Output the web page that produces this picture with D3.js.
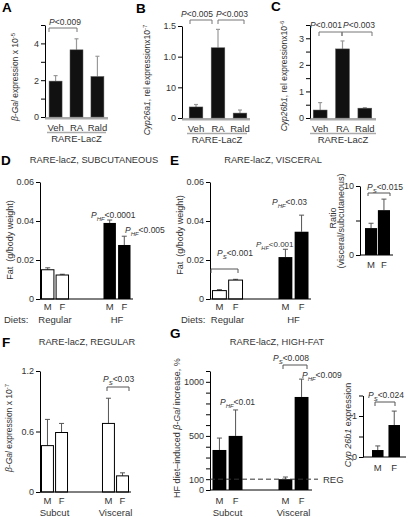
<!DOCTYPE html>
<html><head><meta charset="utf-8">
<script src="https://cdn.jsdelivr.net/npm/d3@7"></script>
<style>body{margin:0;background:#fff}svg{display:block}text{white-space:pre}</style>
</head><body><svg id="chart" width="408" height="517"></svg>
<script>
// ---------------- DATA ----------------
const treatments = ["Veh", "RA", "Rald"];
const betaGalA = [1.95, 3.65, 2.2];
const betaGalAErr = [0.3, 0.6, 1.1];
const cyp26a1B = [0.18, 1.145, 0.08];
const cyp26a1BErr = [0.04, 0.3, 0.05];
const cyp26b1C = [0.3, 2.6, 0.37];
const cyp26b1CErr = [0.28, 0.3, 0.02];

const sexes = ["M", "F"];
const diets = ["Regular", "HF"];
const subcutFatD = [[0.015, 0.0123], [0.039, 0.0277]];
const subcutFatDErr = [[0.001, 0.0004], [0.0015, 0.0045]];
const visceralFatE = [[0.0043, 0.0097], [0.0215, 0.0345]];
const visceralFatEErr = [[0.0005, 0.0004], [0.004, 0.0085]];
const ratioE = [3.9, 6.5];
const ratioEErr = [0.7, 1.6];

const depots = ["Subcut", "Visceral"];
const betaGalF = [[0.46, 0.59], [0.68, 0.16]];
const betaGalFErr = [[0.26, 0.09], [0.25, 0.03]];
const hfIncreaseG = [[370, 500], [100, 860]];
const hfIncreaseGErr = [[110, 240], [20, 165]];
const cyp26b1G = [0.17, 0.78];
const cyp26b1GErr = [0.1, 0.34];

// ---------------- HELPERS ----------------
const svg = d3.select("#chart");
const FONT = "'Liberation Sans', Arial, Helvetica, sans-serif";

function rich(x, y, parts, o = {}) {
  const size = o.size || 9;
  const t = svg.append("text").attr("x", x).attr("y", y)
    .attr("font-size", size).attr("font-family", FONT)
    .attr("text-anchor", o.anchor || "start")
    .attr("fill", o.fill || "#333");
  if (o.weight) t.attr("font-weight", o.weight);
  if (o.rotate) t.attr("transform", `rotate(-90,${x},${y})`);
  let shift = 0;
  parts.forEach(p => {
    if (typeof p === "string") p = { t: p };
    const s = t.append("tspan").text(p.t);
    if (p.i) s.attr("font-style", "italic");
    const target = p.sub ? 2.5 : p.sup ? -3.5 : 0;
    if (target !== shift) { s.attr("dy", target - shift); shift = target; }
    if (p.sub || p.sup) s.attr("font-size", size * 0.7);
  });
  return t;
}

function leftAxis(y, x, ticks, labels, fmt) {
  const g = svg.append("g").attr("transform", `translate(${x},0)`)
    .call(d3.axisLeft(y).tickValues(ticks).tickSize(4).tickSizeOuter(0).tickPadding(2)
      .tickFormat(d => labels.includes(d) ? fmt(d) : ""));
  g.attr("font-family", FONT).attr("font-size", 9);
  g.selectAll("text").attr("fill", "#333");
  g.selectAll("line,path").attr("stroke", "#000");
  return g;
}

function errorBar(cx, y0, y1, cap, color, w) {
  svg.append("line").attr("x1", cx).attr("x2", cx).attr("y1", y0).attr("y2", y1)
    .attr("stroke", color).attr("stroke-width", w);
  svg.append("line").attr("x1", cx - cap / 2).attr("x2", cx + cap / 2).attr("y1", y1).attr("y2", y1)
    .attr("stroke", color).attr("stroke-width", w);
}

function bracket(x1, x2, y, drop, color = "#555") {
  svg.append("path").attr("d", `M${x1},${y + drop}V${y}H${x2}V${y + drop}`)
    .attr("fill", "none").attr("stroke", color).attr("stroke-width", 1);
}

function label(x, y, s, size = 9, anchor = "middle") {
  return rich(x, y, [s], { size, anchor });
}

// ---------------- PANELS A-C ----------------
function panelABC(cfg) {
  const y = d3.scaleLinear().domain(cfg.domain).range(cfg.yRange);
  const x = d3.scaleBand().domain(treatments).range(cfg.xRange).paddingInner(0.38).paddingOuter(0.1);
  const y0 = y(0);
  svg.append("line").attr("x1", cfg.axisX).attr("x2", cfg.xEnd).attr("y1", y0 + 1.2).attr("y2", y0 + 1.2)
    .attr("stroke", "#aaa").attr("stroke-width", 2.5);
  leftAxis(y, cfg.axisX, cfg.ticks, cfg.labels, cfg.fmt);
  cfg.values.forEach((v, i) => {
    const cx = x(treatments[i]) + x.bandwidth() / 2;
    errorBar(cx, y(v), y(v + cfg.errs[i]), 4, "#999", 1.2);
  });
  svg.append("g").selectAll("rect").data(cfg.values).join("rect")
    .attr("x", (d, i) => x(treatments[i])).attr("y", d => y(d))
    .attr("width", x.bandwidth()).attr("height", d => y0 - y(d))
    .attr("fill", "#111").attr("stroke", "#555").attr("stroke-width", 0.5);
  treatments.forEach(t => label(x(t) + x.bandwidth() / 2, y0 + 13.5, t, 9.5));
  svg.append("line").attr("x1", cfg.lz[0]).attr("x2", cfg.lz[1]).attr("y1", y0 + 15.5).attr("y2", y0 + 15.5)
    .attr("stroke", "#aaa").attr("stroke-width", 1.5);
  label((cfg.lz[0] + cfg.lz[1]) / 2, y0 + 25, "RARE-LacZ", 9.5);
  return { x, y };
}

panelABC({
  values: betaGalA, errs: betaGalAErr, domain: [0, 5], yRange: [117, 25],
  xRange: [47, 106], axisX: 45, xEnd: 108, ticks: [0, 1, 2, 3, 4, 5], labels: [0, 2, 4],
  fmt: d => String(d), lz: [47, 106]
});
panelABC({
  values: cyp26a1B, errs: cyp26a1BErr, domain: [0, 1.5], yRange: [118, 26],
  xRange: [187, 249], axisX: 182, xEnd: 250, ticks: [0, 0.5, 1, 1.5], labels: [0, 0.5, 1, 1.5],
  fmt: d => ({ 0: "0", 0.5: "10", 1: "1.0", 1.5: "1.5" })[d], lz: [187, 247]
});
panelABC({
  values: cyp26b1C, errs: cyp26b1CErr, domain: [0, 3.5], yRange: [118, 25],
  xRange: [311, 374], axisX: 310, xEnd: 376, ticks: d3.range(0, 3.51, 0.5), labels: [0, 1, 2, 3],
  fmt: d => String(d), lz: [310, 376]
});

// A-C annotations
bracket(49, 77, 28, 4, "#777");
rich(65, 25, [{ t: "P", i: true }, "<0.009"], { anchor: "middle", size: 8.5 });
bracket(190, 212, 20, 4, "#777");
bracket(218, 244, 20, 4, "#777");
rich(197, 17, [{ t: "P", i: true }, "<0.005"], { anchor: "middle", size: 8.5 });
rich(232, 17, [{ t: "P", i: true }, "<0.003"], { anchor: "middle", size: 8.5 });
bracket(319, 342, 32, 4, "#777");
bracket(342, 372, 32, 4, "#777");
rich(326, 28, [{ t: "P", i: true }, "<0.001"], { anchor: "middle", size: 8.5 });
rich(359, 28, [{ t: "P", i: true }, "<0.003"], { anchor: "middle", size: 8.5 });

rich(18, 77, [{ t: "β-Gal", i: true }, " expression x 10", { t: "-5", sup: true }], { rotate: true, anchor: "middle", size: 8.5 });
rich(150, 80, [{ t: "Cyp26a1", i: true }, ", rel expressionx10", { t: "-7", sup: true }], { rotate: true, anchor: "middle", size: 8.5 });
rich(287, 76, [{ t: "Cyp26b1", i: true }, ", rel expressionx10", { t: "-6", sup: true }], { rotate: true, anchor: "middle", size: 8.5 });

// ---------------- GROUPED PANELS ----------------
function panelGrouped(cfg) {
  const y = d3.scaleLinear().domain(cfg.domain).range(cfg.yRange);
  const xo = d3.scaleBand().domain(cfg.groups).range(cfg.xRange).paddingInner(cfg.pi);
  const xi = d3.scaleBand().domain(sexes).range([0, xo.bandwidth()]).paddingInner(0.08);
  const y0 = y(0);
  leftAxis(y, cfg.axisX, cfg.ticks, cfg.labels, cfg.fmt);
  cfg.groups.forEach((gn, gi) => sexes.forEach((s, si) => {
    const v = cfg.values[gi][si], e = cfg.errs[gi][si];
    const bx = xo(gn) + xi(s), bw = xi.bandwidth();
    errorBar(bx + bw / 2, y(v), y(v + e), 5, "#555", 1);
    const fill = cfg.fills[gi];
    svg.append("rect").attr("x", bx + 0.5).attr("y", y(v)).attr("width", bw - 1).attr("height", y0 - y(v))
      .attr("fill", fill).attr("stroke", fill === "#fff" ? "#000" : "none").attr("stroke-width", 1);
    label(bx + bw / 2, cfg.sexY, s, 9.5);
  }));
  svg.append("line").attr("x1", cfg.axisX).attr("x2", cfg.xEnd).attr("y1", y0).attr("y2", y0)
    .attr("stroke", "#000").attr("stroke-width", 1);
  cfg.groups.forEach(gn => label(xo(gn) + xo.bandwidth() / 2, cfg.groupY, gn, 9.5));
  return { y, xo, xi };
}

const fatFmt = d => d === 0 ? "0" : d.toFixed(2);
const dP = panelGrouped({
  groups: diets, values: subcutFatD, errs: subcutFatDErr, fills: ["#fff", "#000"],
  domain: [0, 0.06], yRange: [299, 182], axisX: 40, xRange: [41, 131], pi: 0.548, xEnd: 133,
  ticks: [0, 0.02, 0.04, 0.06], labels: [0, 0.02, 0.04, 0.06], fmt: fatFmt, sexY: 310, groupY: 323
});
label(4, 323, "Diets:", 9.5, "start");

const eP = panelGrouped({
  groups: diets, values: visceralFatE, errs: visceralFatEErr, fills: ["#fff", "#000"],
  domain: [0, 0.06], yRange: [299, 182], axisX: 210, xRange: [212, 309], pi: 0.53, xEnd: 311,
  ticks: [0, 0.02, 0.04, 0.06], labels: [0, 0.02, 0.04, 0.06], fmt: fatFmt, sexY: 310, groupY: 323
});
label(181, 323, "Diets:", 9.5, "start");

const fP = panelGrouped({
  groups: depots, values: betaGalF, errs: betaGalFErr, fills: ["#fff", "#fff"],
  domain: [0, 1.2], yRange: [492, 371], axisX: 40, xRange: [41, 129], pi: 0.557, xEnd: 131,
  ticks: [0, 0.6, 1.2], labels: [0, 0.6, 1.2], fmt: d => d === 0 ? "0" : d.toFixed(1), sexY: 504, groupY: 516
});

const gP = panelGrouped({
  groups: depots, values: hfIncreaseG, errs: hfIncreaseGErr, fills: ["#000", "#000"],
  domain: [0, 1100], yRange: [490, 371], axisX: 210, xRange: [212, 309], pi: 0.53, xEnd: 312,
  ticks: d3.range(0, 1101, 100), labels: [0, 100, 500, 1000], fmt: d => String(d), sexY: 504, groupY: 516
});
svg.append("line").attr("x1", 210).attr("x2", 318).attr("y1", gP.y(100)).attr("y2", gP.y(100))
  .attr("stroke", "#333").attr("stroke-width", 1).attr("stroke-dasharray", "5,3");
label(323, gP.y(100) + 3.5, "REG", 9.5, "start");

// ---------------- INSETS ----------------
function inset(cfg) {
  const y = d3.scaleLinear().domain(cfg.domain).range(cfg.yRange);
  const x = d3.scaleBand().domain(sexes).range(cfg.xRange).paddingInner(cfg.pi);
  const y0 = y(0);
  leftAxis(y, cfg.axisX, cfg.ticks, cfg.labels, d => String(d));
  cfg.values.forEach((v, i) => {
    const bx = x(sexes[i]), bw = x.bandwidth();
    errorBar(bx + bw / 2, y(v), y(v + cfg.errs[i]), 5, "#555", 1);
    svg.append("rect").attr("x", bx).attr("y", y(v)).attr("width", bw).attr("height", y0 - y(v)).attr("fill", "#000");
    label(bx + bw / 2, cfg.sexY, sexes[i], 9.5);
  });
  svg.append("line").attr("x1", cfg.axisX).attr("x2", cfg.xEnd).attr("y1", y0).attr("y2", y0)
    .attr("stroke", "#000").attr("stroke-width", 1);
  return { x, y };
}
inset({
  values: ratioE, errs: ratioEErr, domain: [0, 10], yRange: [255, 186], xRange: [365, 390], pi: 0.06,
  axisX: 360, xEnd: 393, ticks: [0, 5, 10], labels: [0, 10], sexY: 268
});
inset({
  values: cyp26b1G, errs: cyp26b1GErr, domain: [0, 1.5], yRange: [457, 395.5], xRange: [372, 400], pi: 0.3,
  axisX: 363, xEnd: 406, ticks: [0, 0.5, 1, 1.5], labels: [0, 1], sexY: 471
});

// ---------------- ANNOTATIONS D-G ----------------
const P = (s) => [{ t: "P", i: true }, { t: s, i: true, sub: true }];
rich(91, 218, [...P("HF"), "<0.0001"], { size: 8.5 });
rich(125, 233, [...P("HF"), "<0.005"], { size: 8.5 });

rich(217, 256, [...P("S"), "<0.001"], { size: 8.5 });
bracket(211, 238, 269, 4);
rich(256, 247, [...P("HF"), "<0.001"], { size: 8 });
rich(272, 205, [...P("HF"), "<0.03"], { size: 8.5 });

rich(367, 190, [...P("S"), "<0.015"], { size: 8.5 });
bracket(368, 390, 193, 3);

rich(103, 382, [...P("S"), "<0.03"], { size: 8.5 });
bracket(107, 129, 387, 4);

rich(220, 405, [...P("HF"), "<0.01"], { size: 8.5 });
rich(273, 361, [...P("S"), "<0.008"], { size: 8.5 });
bracket(283, 307, 365, 4);
rich(302, 378, [...P("HF"), "<0.009"], { size: 8.5 });

rich(368, 398, [...P("S"), "<0.024"], { size: 8.5 });
bracket(375, 395, 402, 4);

// ---------------- TITLES / AXIS LABELS ----------------
label(94, 163, "RARE-lacZ, SUBCUTANEOUS", 9.3);
label(273, 163, "RARE-lacZ, VISCERAL", 9.3);
label(87, 345, "RARE-lacZ, REGULAR", 9.3);
label(277, 345, "RARE-lacZ, HIGH-FAT", 9.3);

rich(13, 240, ["Fat  (g/body weight)"], { rotate: true, anchor: "middle" });
rich(183, 235, ["Fat  (g/body weight)"], { rotate: true, anchor: "middle" });
rich(336, 218, ["Ratio"], { rotate: true, anchor: "middle" });
rich(344, 221, ["(visceral/subcutaneous)"], { rotate: true, anchor: "middle" });
rich(12, 428, [{ t: "β-Gal", i: true }, " expression x 10", { t: "-7", sup: true }], { rotate: true, anchor: "middle", size: 8.5 });
rich(180, 428, ["HF diet–induced ", { t: "β-Gal", i: true }, " increase, %"], { rotate: true, anchor: "middle", size: 9 });
rich(351, 425, [{ t: "Cyp 26b1", i: true }, " expression"], { rotate: true, anchor: "middle", size: 9 });

// panel letters
[["A", 2, 12], ["B", 136, 13], ["C", 271, 11], ["D", 1, 165], ["E", 170, 165], ["F", 2, 347], ["G", 170, 338]]
  .forEach(([s, x, y]) => rich(x, y, [s], { size: 13.5, weight: "bold", fill: "#000" }));
</script>
</body></html>
